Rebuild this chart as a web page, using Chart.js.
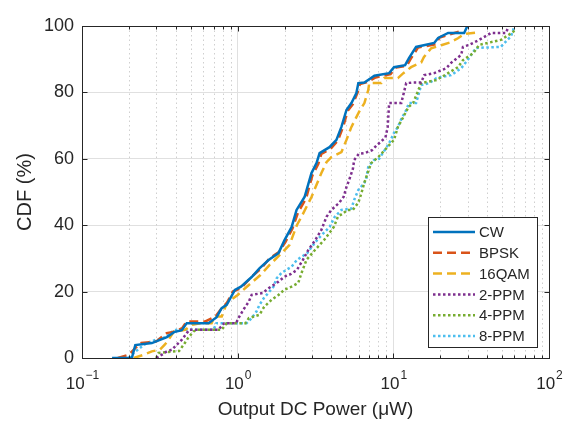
<!DOCTYPE html>
<html>
<head>
<meta charset="utf-8">
<script src="https://cdn.jsdelivr.net/npm/chart.js@4.4.1/dist/chart.umd.min.js"></script>
<style>
  body { margin: 0; background: #fff; }
  canvas { display: block; }
</style>
</head>
<body>
<canvas id="cdf-chart" width="573" height="429"></canvas>
<script>
// values: output DC power (uW) and CDF (%)
const cwPower   = [0.156, 0.209, 0.22, 0.281, 0.351, 0.39, 0.438, 0.471, 0.65, 0.733, 0.789, 0.85, 0.96, 1.05, 1.23, 1.38, 1.58, 1.83, 2.0, 2.22, 2.39, 2.69, 2.98, 3.21, 3.36, 3.89, 4.31, 4.64, 5.0, 5.38, 5.79, 5.96, 6.52, 7.56, 9.4, 10.1, 11.9, 12.6, 14.0, 18.3, 19.4, 22.5, 28.5, 29.9];
const cwCdf     = [0, 0, 3.9, 4.5, 6.3, 7.8, 8.4, 10.5, 10.5, 12.3, 15, 16, 20.5, 21.5, 24.4, 27, 29.5, 31.6, 35.5, 39.4, 44.6, 48.5, 55.7, 58.7, 61.7, 63.5, 65.7, 69.6, 74.7, 76.8, 79.8, 82.8, 83, 85, 85.8, 87.6, 88.2, 90.3, 93.7, 94.9, 96.4, 97.9, 97.9, 100];

const bpskPower = [0.17, 0.2, 0.22, 0.24, 0.3, 0.35, 0.4, 0.44, 0.47, 0.62, 0.72, 0.79, 0.85, 0.93, 1.05, 1.23, 1.42, 1.6, 1.85, 2.03, 2.25, 2.45, 2.75, 3.02, 3.3, 3.45, 3.95, 4.4, 4.75, 5.1, 5.5, 5.9, 6.1, 6.7, 7.7, 9.6, 10.4, 12.2, 12.9, 14.4, 18.7, 19.8, 23, 27.5];
const bpskCdf   = [0, 1, 3, 4.5, 5, 7.5, 8, 9, 11, 11, 12.5, 15, 16.5, 20, 21, 24.5, 27, 30, 32, 35, 39, 44, 48, 55, 58.5, 61.5, 63, 65.5, 69.5, 74.5, 76.5, 80, 82.5, 83, 84.5, 85.5, 87.5, 88, 90, 93.5, 94.5, 96.5, 97.5, 98.5];

const qamPower  = [0.215, 0.25, 0.281, 0.316, 0.34, 0.36, 0.39, 0.46, 0.51, 0.59, 0.68, 0.71, 0.79, 0.85, 1.0, 1.18, 1.4, 1.6, 1.91, 2.15, 2.4, 2.6, 2.98, 3.45, 3.72, 4.0, 4.64, 5.0, 5.38, 6.0, 6.52, 6.9, 7.0, 8.38, 8.75, 10.7, 11.6, 13, 15.1, 15.7, 17.5, 20.3, 23, 26, 28.5, 34];
const qamCdf    = [0, 1, 2, 2.5, 4, 5.5, 8, 8.5, 10, 10.5, 10.5, 12.5, 12.5, 16.5, 19, 22, 25, 28, 31.5, 34, 40, 43, 48.5, 55.7, 59, 60.5, 62, 65.7, 69.6, 74, 76.8, 80.7, 82.8, 82.8, 84.3, 84.3, 85.8, 87.6, 89, 90.6, 93.3, 94.2, 95, 96.3, 97.6, 98];

const ppm2Power = [0.3, 0.326, 0.351, 0.378, 0.406, 0.438, 0.471, 0.49, 0.75, 0.82, 0.98, 1.0, 1.09, 1.18, 1.23, 1.45, 1.58, 1.83, 2.0, 2.2, 2.4, 2.62, 2.85, 3.15, 3.45, 3.72, 4.0, 4.5, 4.8, 5.0, 5.2, 5.5, 5.6, 6.0, 6.52, 7.3, 7.8, 8.9, 9.2, 9.4, 11.25, 12.1, 13.5, 15.1, 15.8, 18.3, 21.9, 23.5, 27.3, 28, 30.6, 35.6, 42.5, 53, 55];
const ppm2Cdf   = [0, 1, 2, 2.5, 4, 5.5, 7.5, 8.5, 8.5, 10.5, 10.5, 11.6, 14.6, 17, 19, 19.6, 21, 23, 24.5, 25.3, 26.5, 29.5, 32.6, 35.5, 38.6, 42.5, 44.6, 46.8, 48.6, 51.5, 53.6, 57, 59.6, 61.5, 61.7, 62.6, 64, 66.4, 69.6, 76.8, 76.8, 82.8, 83, 83, 85.2, 85.8, 87.3, 88.9, 91.3, 93.7, 94.3, 95.8, 97.9, 97.9, 100];

const ppm4Power = [0.3, 0.31, 0.36, 0.42, 0.45, 0.48, 0.52, 0.55, 0.79, 0.85, 1.12, 1.18, 1.38, 1.48, 1.65, 1.83, 2.0, 2.22, 2.45, 2.57, 2.77, 3.15, 3.6, 4.15, 4.4, 5.1, 5.5, 5.96, 6.24, 6.5, 6.7, 7.2, 8.0, 10.1, 10.7, 11.6, 12.5, 13.4, 15.1, 18.9, 22.5, 26, 28, 32.6, 35.6, 49, 55, 61];
const ppm4Cdf   = [0, 1.5, 1.8, 2.1, 4, 6, 8, 8.5, 8.5, 10.5, 10.5, 12, 13, 15.4, 17.5, 19, 20.6, 21.5, 22.6, 25.6, 29.6, 32.6, 35.6, 39.5, 42.5, 44.6, 44.6, 46.8, 49.7, 52.7, 54.5, 58.7, 60.5, 65.7, 69.6, 72.6, 75.6, 76.8, 82.8, 83.7, 85.8, 87.6, 89.7, 91.8, 94.3, 95.8, 97.3, 98.8];

const ppm8Power = [0.2, 0.215, 0.24, 0.26, 0.3, 0.33, 0.35, 0.39, 0.45, 0.7, 0.73, 1.14, 1.23, 1.32, 1.38, 1.47, 1.58, 1.7, 1.78, 1.91, 2.22, 2.4, 2.8, 3.05, 3.3, 3.9, 4.2, 4.64, 5.38, 5.6, 5.96, 6.5, 6.7, 6.9, 7.5, 8.1, 9.4, 10.1, 10.7, 11.25, 12.1, 12.6, 14.0, 15.1, 17, 18.9, 23.5, 27.3, 30.6, 34, 49, 54, 57, 60];
const ppm8Cdf   = [0, 1.5, 3.3, 4.5, 5.5, 6, 6.5, 8.4, 8.5, 8.5, 10.5, 10.5, 12, 14, 16, 18, 19.7, 21.5, 24, 25.6, 27.5, 29.5, 31.6, 34, 36, 39.5, 42.5, 44.6, 45, 47.6, 50.6, 52.7, 54, 57.5, 59.6, 60, 64.7, 67.8, 69.6, 72, 74.7, 76.8, 76.8, 82.2, 82.8, 84.3, 85.2, 87.3, 90.3, 93.4, 93.7, 95.8, 96.9, 100];

const seriesLabels = ['CW', 'BPSK', '16QAM', '2-PPM', '4-PPM', '8-PPM'];
const seriesColors = ['#0072BD', '#D95319', '#EDB120', '#7E2F8E', '#77AC30', '#4DBEEE'];
const seriesDash   = [[], [9, 5], [9, 5], [2.5, 2.5], [2.5, 2.5], [2.5, 2.5]];
const powerData = [cwPower, bpskPower, qamPower, ppm2Power, ppm4Power, ppm8Power];
const cdfData   = [cwCdf, bpskCdf, qamCdf, ppm2Cdf, ppm4Cdf, ppm8Cdf];

const yTicks = [0, 20, 40, 60, 80, 100];
const xDecades = [0.1, 1, 10, 100];

const axisColor = '#262626';
const fontFamily = '"Liberation Sans", Arial, Helvetica, sans-serif';

function isMajor(v) {
    const l = Math.log10(v);
    return Math.abs(l - Math.round(l)) < 1e-6;
}

let xGrid = [];
xDecades.slice(0, -1).forEach(function(d) {
    for (let m = 1; m < 10; m++) xGrid.push(+(m * d).toPrecision(3));
});
xGrid.push(xDecades[xDecades.length - 1]);

let dataset = [];
powerData.forEach(function(xs, index) {
    dataset.push({
        label: seriesLabels[index],
        data: xs.map(function(x, i) { return {x: x, y: cdfData[index][i]}; }),
        borderColor: seriesColors[index],
        backgroundColor: seriesColors[index],
        borderDash: seriesDash[index],
        borderWidth: 2.5,
        borderCapStyle: 'butt',
        pointRadius: 0,
        fill: false,
        tension: 0,
    });
});

// MATLAB look: dotted minor grid, box, inward ticks, 10^n labels, legend
const matlabAxes = {
    id: 'matlabAxes',
    beforeDatasetsDraw(chart) {
        const {ctx, chartArea: a, scales: {x}} = chart;
        ctx.save();
        ctx.strokeStyle = '#cfcfcf';
        ctx.lineWidth = 1;
        ctx.setLineDash([1.5, 3]);
        xGrid.forEach(function(v) {
            if (isMajor(v)) return;
            const px = Math.round(x.getPixelForValue(v)) + 0.5;
            ctx.beginPath();
            ctx.moveTo(px, a.top);
            ctx.lineTo(px, a.bottom);
            ctx.stroke();
        });
        ctx.restore();
    },
    afterDraw(chart) {
        const {ctx, chartArea: a, scales: {x, y}} = chart;
        const L = Math.round(a.left) + 0.5, R = Math.round(a.right) + 0.5;
        const T = Math.round(a.top) + 0.5, B = Math.round(a.bottom) + 0.5;
        ctx.save();
        ctx.strokeStyle = axisColor;
        ctx.lineWidth = 1;
        ctx.strokeRect(L, T, R - L, B - T);

        ctx.beginPath();
        xGrid.forEach(function(v) {
            const px = Math.round(x.getPixelForValue(v)) + 0.5;
            const len = isMajor(v) ? 5 : 3;
            ctx.moveTo(px, B); ctx.lineTo(px, B - len);
            ctx.moveTo(px, T); ctx.lineTo(px, T + len);
        });
        yTicks.forEach(function(v) {
            const py = Math.round(y.getPixelForValue(v)) + 0.5;
            ctx.moveTo(L, py); ctx.lineTo(L + 5, py);
            ctx.moveTo(R, py); ctx.lineTo(R - 5, py);
        });
        ctx.stroke();

        // x tick labels with raised exponents
        ctx.fillStyle = axisColor;
        ctx.textBaseline = 'alphabetic';
        xDecades.forEach(function(v) {
            const px = x.getPixelForValue(v);
            const exp = String(Math.round(Math.log10(v))).replace('-', '\u2212');
            ctx.font = '17px ' + fontFamily;
            const wBase = ctx.measureText('10').width;
            ctx.font = '12px ' + fontFamily;
            const wExp = ctx.measureText(exp).width;
            const left = px - (wBase + wExp) / 2;
            ctx.font = '17px ' + fontFamily;
            ctx.fillText('10', left, 389);
            ctx.font = '12px ' + fontFamily;
            ctx.fillText(exp, left + wBase + 1, 379);
        });

        // legend
        const lx = 428.5, ly = 217.5, lw = 109, lh = 130;
        ctx.fillStyle = '#ffffff';
        ctx.fillRect(lx, ly, lw, lh);
        ctx.strokeStyle = axisColor;
        ctx.strokeRect(lx, ly, lw, lh);
        ctx.font = '15px ' + fontFamily;
        ctx.textBaseline = 'middle';
        chart.data.datasets.forEach(function(ds, i) {
            const ry = 232 + i * 20.8;
            ctx.strokeStyle = ds.borderColor;
            ctx.lineWidth = 2.5;
            ctx.setLineDash(ds.borderDash);
            ctx.beginPath();
            ctx.moveTo(433, ry);
            ctx.lineTo(475, ry);
            ctx.stroke();
            ctx.setLineDash([]);
            ctx.fillStyle = axisColor;
            ctx.fillText(ds.label, 479, ry + 1);
        });
        ctx.restore();
    }
};

new Chart(document.getElementById('cdf-chart'), {
    type: 'line',
    data: { datasets: dataset },
    options: {
        responsive: false,
        animation: false,
        layout: { padding: { top: 26, right: 24, left: 0, bottom: 0 } },
        plugins: {
            legend: { display: false },
            tooltip: { enabled: false },
        },
        scales: {
            x: {
                type: 'logarithmic',
                min: 0.1,
                max: 100,
                afterBuildTicks: function(scale) {
                    scale.ticks = xGrid.map(function(v) { return {value: v}; });
                },
                afterFit: function(scale) { scale.height = 71; },
                ticks: { display: false },
                border: { display: false },
                grid: {
                    drawTicks: false,
                    color: function(c) { return c.tick && isMajor(c.tick.value) ? '#e0e0e0' : 'rgba(0,0,0,0)'; },
                },
                title: {
                    display: true,
                    text: 'Output DC Power (\u03bcW)',
                    color: axisColor,
                    font: { family: fontFamily, size: 19 },
                    padding: { top: 0, bottom: 8 },
                },
            },
            y: {
                min: 0,
                max: 100,
                afterBuildTicks: function(scale) {
                    scale.ticks = yTicks.map(function(v) { return {value: v}; });
                },
                afterFit: function(scale) { scale.width = 82; },
                ticks: {
                    color: axisColor,
                    font: { family: fontFamily, size: 18 },
                    padding: 8,
                },
                border: { display: false },
                grid: { drawTicks: false, color: '#e0e0e0' },
                title: {
                    display: true,
                    text: 'CDF (%)',
                    color: axisColor,
                    font: { family: fontFamily, size: 20 },
                    padding: { top: 13, bottom: 0 },
                },
            },
        },
    },
    plugins: [matlabAxes],
});
</script>
</body>
</html>
